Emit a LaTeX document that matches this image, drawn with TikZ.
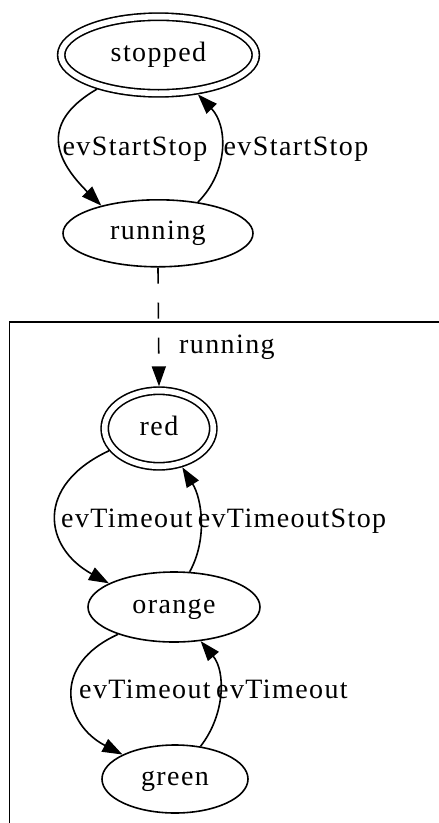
\documentclass[tikz,border=0pt]{standalone}
\usepackage{fontspec}
\setmainfont{Liberation Serif}[LetterSpace=5]
\usetikzlibrary{arrows.meta,shapes.geometric}

\begin{document}
\begin{tikzpicture}[
      x=1pt, y=-1pt,
      line width=1.6pt,
      every node/.style={font=\fontsize{28}{32}\selectfont},
      state/.style={ellipse, draw, inner sep=0pt, text height=18pt, text depth=5pt},
      initstate/.style={state, double, double distance=5.6pt, outer sep=4.4pt},
      trans/.style={-{Triangle[length=20pt,width=14pt]}},
      translabel/.style={anchor=base, inner sep=0pt},
  ]
      \useasboundingbox (0,0) rectangle (439,823);

      % --- MAQUINA PRINCIPAL ---
      \node[initstate, minimum width=194.6pt, minimum height=76.6pt] (stopped) at (158.5,55) {stopped};
      \node[state, minimum width=190pt, minimum height=67pt] (running) at (158,233.3) {running};

      \draw[trans] (stopped.209) .. controls +(-62,36) and +(-41.7,-41.5) .. (running.154.5);
      \draw[trans] (running.38) .. controls +(31,-31) and +(30,31.3) .. (stopped.315.5);
      \node[translabel] (lstart) at (135,155) {evStartStop};
      \node[translabel] (lstop) at (296,155) {evStartStop};

      % --- SUBMAQUINA running ---
      \draw (9.5,321.7) rectangle (470,860);

      \node[initstate, minimum width=108.6pt, minimum height=75.6pt] (red) at (159,428.5) {red};
      \node[state, minimum width=172pt, minimum height=70pt] (orange) at (174,607) {orange};
      \node[state, minimum width=146pt, minimum height=68pt] (green) at (175,779) {green};

      \draw[trans, dash pattern=on 16pt off 19pt] (running.south) -- (red.north);
      \node[translabel] (lenter) at (227,353) {running};

      \draw[trans] (red.204.7) .. controls +(-75,35) and +(-65,-35.6) .. (orange.160);
      \draw[trans] (orange.66.5) .. controls +(18,-32.6) and +(19.7,31.7) .. (red.301.4);
      \node[translabel] (lredor) at (127,527.7) {evTimeout};
      \node[translabel] (lorred) at (292,527.7) {evTimeoutStop};

      \draw[trans] (orange.206.7) .. controls +(-68,31) and +(-58,-30) .. (green.155.3);
      \draw[trans] (green.52) .. controls +(25,-32) and +(25,30) .. (orange.308);
      \node[translabel] (lorgr) at (145,698) {evTimeout};
      \node[translabel] (lgror) at (282,698) {evTimeout};

  \end{tikzpicture}
\end{document}
